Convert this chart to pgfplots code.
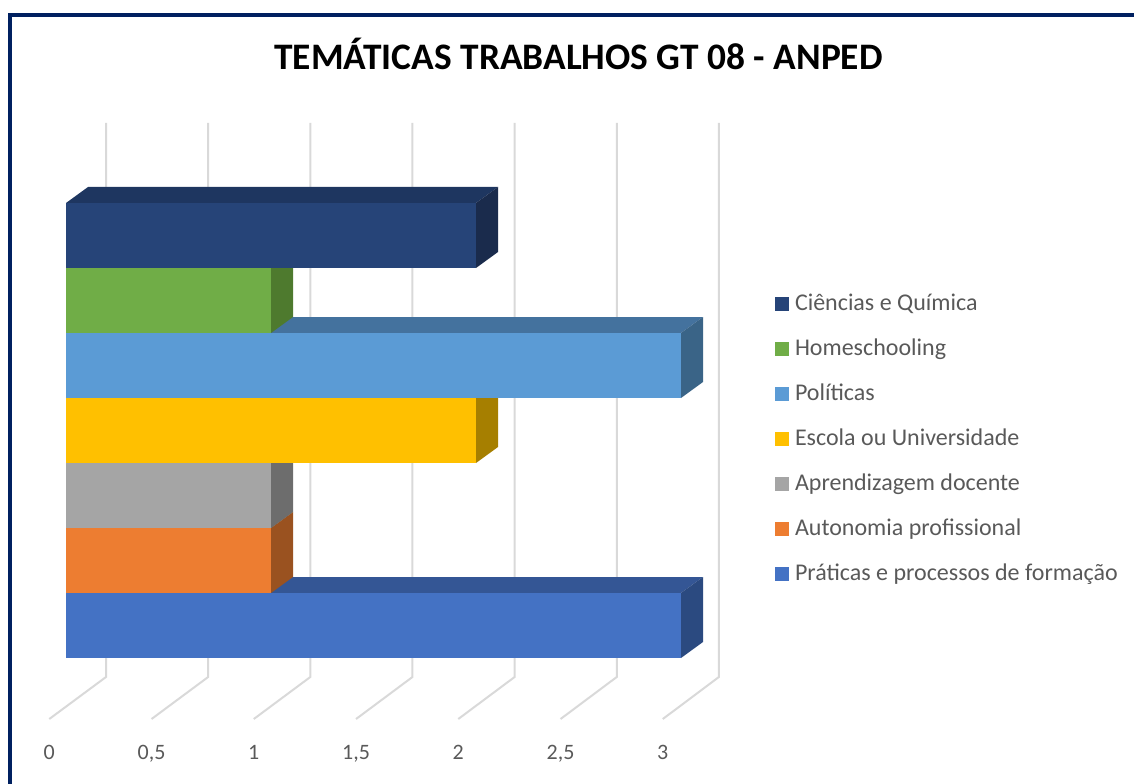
\documentclass[border=0pt]{standalone}
\usepackage{pgfplots}
\pgfplotsset{compat=1.18}
\usepackage{fontspec}
\setmainfont{Carlito}
\definecolor{framecol}{HTML}{002060}
\definecolor{gridc}{HTML}{D9D9D9}
\definecolor{txt}{HTML}{595959}
% Praticas
\definecolor{pF}{HTML}{4472C4}\definecolor{pT}{HTML}{345695}\definecolor{pS}{HTML}{2B4A80}
% Autonomia
\definecolor{aF}{HTML}{ED7D31}\definecolor{aT}{HTML}{B45F25}\definecolor{aS}{HTML}{9A5220}
% Aprendizagem
\definecolor{gF}{HTML}{A5A5A5}\definecolor{gT}{HTML}{7E7E7E}\definecolor{gS}{HTML}{6D6D6D}
% Escola
\definecolor{eF}{HTML}{FFC000}\definecolor{eT}{HTML}{C29200}\definecolor{eS}{HTML}{A67F00}
% Politicas
\definecolor{lF}{HTML}{5B9BD5}\definecolor{lT}{HTML}{44729E}\definecolor{lS}{HTML}{3A6487}
% Homeschooling
\definecolor{hF}{HTML}{70AD47}\definecolor{hT}{HTML}{588A38}\definecolor{hS}{HTML}{4E7A2E}
% Ciencias
\definecolor{cF}{HTML}{264478}\definecolor{cT}{HTML}{1E3660}\definecolor{cS}{HTML}{1A2B4C}
\tikzset{ticklab/.style={anchor=base, font=\fontsize{11}{13}\selectfont, text=txt}}
\begin{document}
\begin{tikzpicture}
\begin{axis}[
  x=102.5pt, y=0.5pt,
  xmin=-0.33, xmax=5.22, ymin=-790, ymax=5,
  hide axis, clip=false,
  reverse legend,
  legend image code/.code={\path[#1] (0pt,-3.5pt) rectangle (7pt,3.5pt);},
  legend style={at={(axis cs:3.45854,-293)}, anchor=north west,
    draw=none, fill=none, inner sep=0pt, outer sep=0pt,
    row sep=11.5pt, font=\fontsize{12}{14}\selectfont, text=txt,
    nodes={inner sep=0pt, text height=8.5pt, text depth=2.5pt},
    /tikz/every odd column/.append style={column sep=3pt}},
  legend cell align=left,
]
% gridlines (back wall + floor)
\addplot[gridc, line width=1pt, forget plot] coordinates {(0.19512,-123) (0.19512,-677) (-0.08146,-719)};
\addplot[gridc, line width=1pt, forget plot] coordinates {(0.69341,-123) (0.69341,-677) (0.41732,-719)};
\addplot[gridc, line width=1pt, forget plot] coordinates {(1.19171,-123) (1.19171,-677) (0.91610,-719)};
\addplot[gridc, line width=1pt, forget plot] coordinates {(1.69000,-123) (1.69000,-677) (1.41488,-719)};
\addplot[gridc, line width=1pt, forget plot] coordinates {(2.18829,-123) (2.18829,-677) (1.91366,-719)};
\addplot[gridc, line width=1pt, forget plot] coordinates {(2.68659,-123) (2.68659,-677) (2.41244,-719)};
\addplot[gridc, line width=1pt, forget plot] coordinates {(3.18488,-123) (3.18488,-677) (2.91122,-719)};
% Praticas e processos de formacao = 3
\addplot[fill=pT, draw=none, forget plot] coordinates {(0,-593) (0.10732,-577) (3.10732,-577) (3,-593)};
\addplot[fill=pS, draw=none, forget plot] coordinates {(3,-593) (3.10732,-577) (3.10732,-642) (3,-658)};
\addplot[fill=pF, draw=none] coordinates {(0,-593) (3,-593) (3,-658) (0,-658)};
\addlegendentry{Práticas e processos de formação}
% Autonomia profissional = 1
\addplot[fill=aT, draw=none, forget plot] coordinates {(0,-528) (0.10732,-512) (1.10732,-512) (1,-528)};
\addplot[fill=aS, draw=none, forget plot] coordinates {(1,-528) (1.10732,-512) (1.10732,-577) (1,-593)};
\addplot[fill=aF, draw=none] coordinates {(0,-528) (1,-528) (1,-593) (0,-593)};
\addlegendentry{Autonomia profissional}
% Aprendizagem docente = 1
\addplot[fill=gT, draw=none, forget plot] coordinates {(0,-463) (0.10732,-447) (1.10732,-447) (1,-463)};
\addplot[fill=gS, draw=none, forget plot] coordinates {(1,-463) (1.10732,-447) (1.10732,-512) (1,-528)};
\addplot[fill=gF, draw=none] coordinates {(0,-463) (1,-463) (1,-528) (0,-528)};
\addlegendentry{Aprendizagem docente}
% Escola ou Universidade = 2
\addplot[fill=eT, draw=none, forget plot] coordinates {(0,-398) (0.10732,-382) (2.10732,-382) (2,-398)};
\addplot[fill=eS, draw=none, forget plot] coordinates {(2,-398) (2.10732,-382) (2.10732,-447) (2,-463)};
\addplot[fill=eF, draw=none] coordinates {(0,-398) (2,-398) (2,-463) (0,-463)};
\addlegendentry{Escola ou Universidade}
% Politicas = 3
\addplot[fill=lT, draw=none, forget plot] coordinates {(0,-333) (0.10732,-317) (3.10732,-317) (3,-333)};
\addplot[fill=lS, draw=none, forget plot] coordinates {(3,-333) (3.10732,-317) (3.10732,-382) (3,-398)};
\addplot[fill=lF, draw=none] coordinates {(0,-333) (3,-333) (3,-398) (0,-398)};
\addlegendentry{Políticas}
% Homeschooling = 1
\addplot[fill=hT, draw=none, forget plot] coordinates {(0,-268) (0.10732,-252) (1.10732,-252) (1,-268)};
\addplot[fill=hS, draw=none, forget plot] coordinates {(1,-268) (1.10732,-252) (1.10732,-317) (1,-333)};
\addplot[fill=hF, draw=none] coordinates {(0,-268) (1,-268) (1,-333) (0,-333)};
\addlegendentry{Homeschooling}
% Ciencias e Quimica = 2
\addplot[fill=cT, draw=none, forget plot] coordinates {(0,-203) (0.10732,-187) (2.10732,-187) (2,-203)};
\addplot[fill=cS, draw=none, forget plot] coordinates {(2,-203) (2.10732,-187) (2.10732,-252) (2,-268)};
\addplot[fill=cF, draw=none] coordinates {(0,-203) (2,-203) (2,-268) (0,-268)};
\addlegendentry{Ciências e Química}
% title
\node[anchor=base, font=\bfseries\fontsize{18.7}{22}\selectfont, text=black] at (axis cs:2.5,-70) {TEMÁTICAS TRABALHOS GT 08 - ANPED};
% value axis labels
\node[ticklab] at (axis cs:-0.08146,-759) {0};
\node[ticklab] at (axis cs:0.41732,-759) {0,5};
\node[ticklab] at (axis cs:0.91610,-759) {1};
\node[ticklab] at (axis cs:1.41488,-759) {1,5};
\node[ticklab] at (axis cs:1.91366,-759) {2};
\node[ticklab] at (axis cs:2.41244,-759) {2,5};
\node[ticklab] at (axis cs:2.91122,-759) {3};
\coordinate (pSW) at (axis cs:-0.32195,-783);
\coordinate (pNE) at (axis cs:5.20976,0);
\coordinate (fL) at (axis cs:-0.27171,-14.7);
\end{axis}
% chart-area frame: left and top sides (right and bottom lie outside the page)
\draw[framecol, line width=2pt] ([yshift=-420pt]fL) -- (fL) -- ++(570pt,0pt);
\pgfresetboundingbox
\useasboundingbox (pSW) rectangle (pNE);
\end{tikzpicture}
\end{document}
